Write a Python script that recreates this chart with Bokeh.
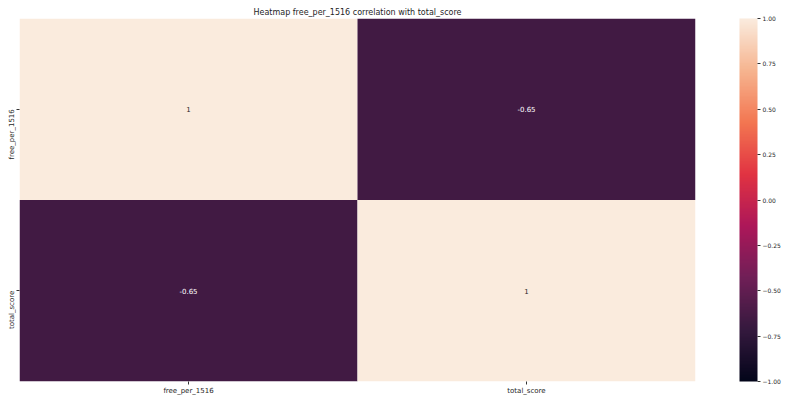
import numpy as np
from bokeh.plotting import figure
from bokeh.models import ColumnDataSource, LinearColorMapper, ColorBar, FixedTicker, FactorRange
from bokeh.embed import file_html
from bokeh.resources import INLINE
from bokeh.core.properties import value

# data
variables = ["free_per_1516", "total_score"]
corr = [[1.0, -0.65], [-0.65, 1.0]]
cbar_ticks = [-1.0, -0.75, -0.5, -0.25, 0.0, 0.25, 0.5, 0.75, 1.0]
title_text = "Heatmap free_per_1516 correlation with total_score"

# rocket-like palette (style)
anchors = [(0.0, "#03051a"), (1/7, "#35193e"), (2/7, "#701f57"), (3/7, "#ad1759"),
           (4/7, "#e13342"), (5/7, "#f37651"), (6/7, "#f6b48f"), (1.0, "#faebdd")]
def h2rgb(h):
    return [int(h[i:i+2], 16) for i in (1, 3, 5)]
pos = np.array([a[0] for a in anchors])
rgb = np.array([h2rgb(a[1]) for a in anchors], dtype=float)
t = np.linspace(0, 1, 256)
palette = ["#%02x%02x%02x" % tuple(int(round(np.interp(tt, pos, rgb[:, c]))) for c in range(3)) for tt in t]

mapper = LinearColorMapper(palette=palette, low=-1, high=1)

xs, ys, vals, labels, tcols = [], [], [], [], []
for i, r in enumerate(variables):
    for j, c in enumerate(variables):
        v = corr[i][j]
        xs.append(c); ys.append(r); vals.append(v)
        labels.append("1" if v == 1 else ("%g" % v))
        tcols.append("#262626" if v > 0 else "#ffffff")
src = ColumnDataSource(dict(x=xs, y=ys, v=vals, label=labels, tc=tcols))

p = figure(width=790, height=400, frame_width=676, frame_height=363,
           output_backend="svg", toolbar_location=None,
           x_range=FactorRange(*variables), y_range=FactorRange(*variables[::-1]),
           min_border_left=19, min_border_right=95, min_border_top=18, min_border_bottom=19)
p.title.text = title_text
p.title.align = "center"
p.title.text_font = "DejaVu Sans"
p.title.text_font_size = "8px"
p.title.text_font_style = "normal"
p.title.text_color = "#262626"
p.title.offset = 0
p.title.standoff = 4

p.rect(x="x", y="y", width=1, height=1, source=src,
       fill_color={"field": "v", "transform": mapper}, line_color=None)
p.text(x="x", y="y", text="label", source=src, text_align="center", text_baseline="middle",
       text_font=value("DejaVu Sans"), text_font_size="7px", text_color="tc")

p.outline_line_color = None
p.grid.visible = False
for ax in (p.xaxis, p.yaxis):
    ax.axis_line_color = None
    ax.major_tick_line_color = "#333333"
    ax.major_tick_in = 0
    ax.major_tick_out = 3
    ax.minor_tick_line_color = None
    ax.major_label_text_font = "DejaVu Sans"
    ax.major_label_text_font_size = "7px"
    ax.major_label_text_color = "#262626"
    ax.major_label_standoff = 2
p.yaxis.major_label_orientation = np.pi / 2
p.yaxis.major_label_standoff = 5

cb = ColorBar(color_mapper=mapper, ticker=FixedTicker(ticks=cbar_ticks),
              major_label_overrides={tk: ("%.2f" % tk).replace("-", "\u2212") for tk in cbar_ticks},
              width=18, margin=0, padding=0, location=(44, 0),
              major_tick_in=0, major_tick_out=3, major_tick_line_color="#333333",
              minor_tick_line_color=None, bar_line_color=None,
              major_label_text_font="DejaVu Sans", major_label_text_font_size="6px",
              major_label_text_color="#262626", label_standoff=2,
              background_fill_color=None, border_line_color=None)
p.add_layout(cb, "right")

open("out.html", "w").write(file_html(p, INLINE))
